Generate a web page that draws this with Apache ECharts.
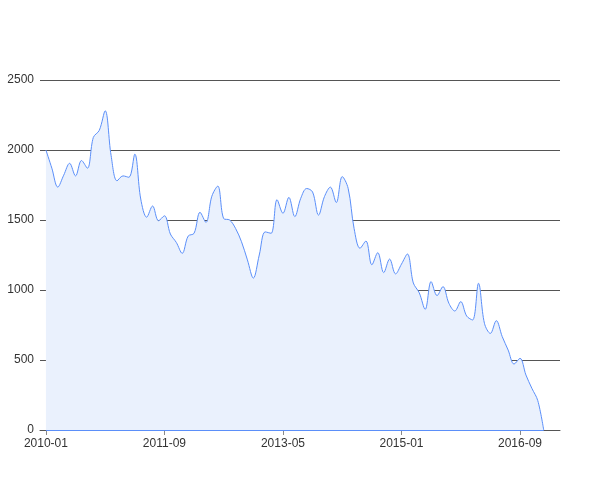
<!DOCTYPE html>
<html>
<head>
<meta charset="utf-8">
<script src="https://cdn.jsdelivr.net/npm/echarts@6/dist/echarts.min.js"></script>
<style>html,body{margin:0;padding:0;background:#fff}#c{width:600px;height:500px}</style>
</head>
<body>
<div id="c"></div>
<script>
const months = [
 '2010-01','2010-02','2010-03','2010-04','2010-05','2010-06','2010-07','2010-08','2010-09','2010-10','2010-11','2010-12',
 '2011-01','2011-02','2011-03','2011-04','2011-05','2011-06','2011-07','2011-08','2011-09','2011-10','2011-11','2011-12',
 '2012-01','2012-02','2012-03','2012-04','2012-05','2012-06','2012-07','2012-08','2012-09','2012-10','2012-11','2012-12',
 '2013-01','2013-02','2013-03','2013-04','2013-05','2013-06','2013-07','2013-08','2013-09','2013-10','2013-11','2013-12',
 '2014-01','2014-02','2014-03','2014-04','2014-05','2014-06','2014-07','2014-08','2014-09','2014-10','2014-11','2014-12',
 '2015-01','2015-02','2015-03','2015-04','2015-05','2015-06','2015-07','2015-08','2015-09','2015-10','2015-11','2015-12',
 '2016-01','2016-02','2016-03','2016-04','2016-05','2016-06','2016-07','2016-08','2016-09','2016-10','2016-11','2016-12',
 '2017-01'
];
const values = [
 2000,1870,1735,1820,1905,1815,1925,1870,2090,2140,
 2280,1960,1780,1815,1805,1970,1650,1520,1600,1495,
 1530,1400,1340,1262,1385,1405,1555,1483,1670,1742,
 1510,1500,1440,1345,1215,1085,1250,1415,1405,1645,
 1548,1662,1524,1655,1725,1700,1535,1667,1735,1625,
 1810,1726,1440,1298,1350,1180,1267,1124,1221,1115,
 1185,1257,1050,980,862,1060,960,1024,905,850,
 917,814,786,1048,762,690,781,667,571,471,
 512,393,298,210,0
];
const xTickIndex = [0, 20, 40, 60, 80];
const yTicks = [0, 500, 1000, 1500, 2000, 2500];

const seriesData = values.map((v, i) => [i, v]);
const font = 'Liberation Sans, Arial, sans-serif';

const chart = echarts.init(document.getElementById('c'), null, {renderer: 'canvas'});
chart.setOption({
  animation: false,
  grid: {left: 40, right: 40, top: 80, bottom: 70, containLabel: false},
  xAxis: {
    type: 'value',
    min: -1,
    max: 86.75,
    splitLine: {show: false},
    axisLine: {show: true, onZero: false, lineStyle: {color: '#555', width: 1}},
    axisTick: {show: true, length: 5, lineStyle: {color: '#888'}, customValues: xTickIndex},
    axisLabel: {
      color: '#333', fontSize: 12, fontFamily: font, margin: 8,
      customValues: xTickIndex,
      formatter: v => months[Math.round(v)] || ''
    }
  },
  yAxis: {
    type: 'value',
    min: yTicks[0],
    max: yTicks[yTicks.length - 1],
    interval: 500,
    axisLine: {show: false},
    axisTick: {show: false},
    axisLabel: {color: '#333', fontSize: 12, fontFamily: font, margin: 6, formatter: v => String(v)},
    splitLine: {show: true, lineStyle: {color: '#555', width: 1}}
  },
  series: [{
    type: 'line',
    data: seriesData,
    smooth: 0.35,
    showSymbol: false,
    symbol: 'none',
    lineStyle: {color: '#5b8ff9', width: 1},
    itemStyle: {color: '#5b8ff9'},
    areaStyle: {color: '#eaf1fd', opacity: 1},
    markLine: {
      silent: true,
      symbol: ['none', 'none'],
      label: {show: false},
      lineStyle: {color: '#5b8ff9', width: 1, type: 'solid'},
      data: [[{coord: [0, 0]}, {coord: [values.length - 1, 0]}]]
    }
  }]
});
</script>
</body>
</html>
